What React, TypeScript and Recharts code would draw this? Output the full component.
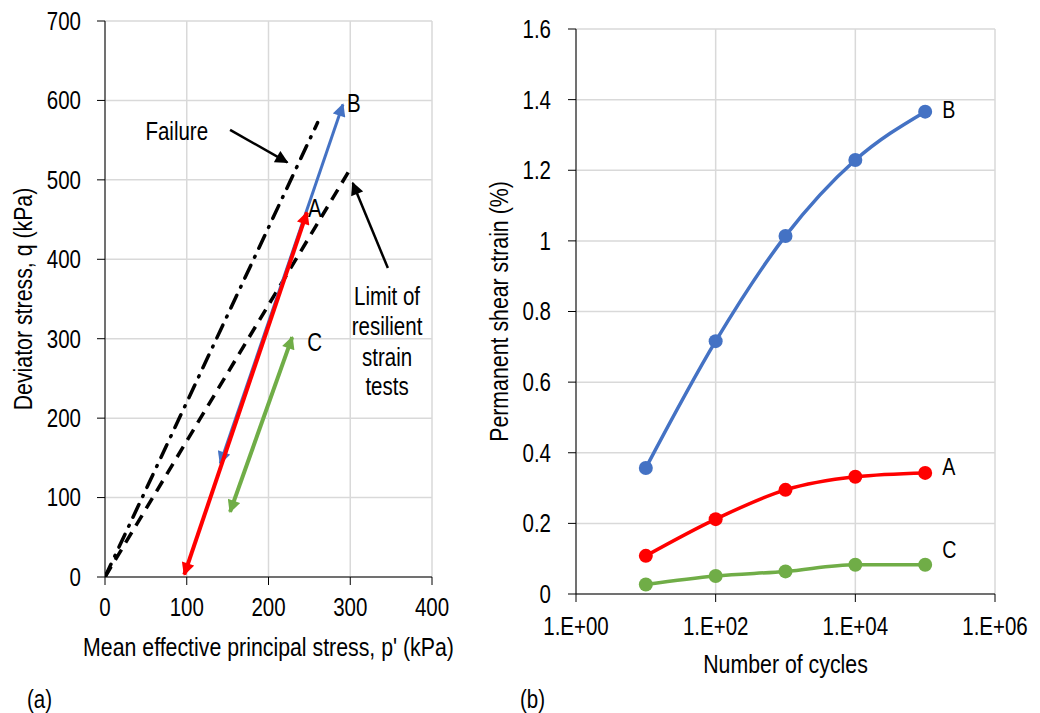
import React from "react";
import {
	LineChart,
	Line,
	XAxis,
	YAxis,
	CartesianGrid,
	ReferenceDot,
} from "recharts";

const FONT = "'Liberation Sans', Arial, sans-serif";
const SQUEEZE = 0.82; // the original uses a narrow face
const GRID = "#d9d9d9";
const RED = "#ff0000";
const BLUE = "#4472c4";
const GREEN = "#70ad47";

// (a) stress paths: p' and q in kPa
const failureLine = [{ p: 0, q: 0 }, { p: 260, q: 572 }];
const resilientLimit = [{ p: 0, q: 0 }, { p: 299, q: 512 }];
const pathA = [{ p: 97, q: 3 }, { p: 247, q: 459 }];
const pathB = [{ p: 141, q: 143 }, { p: 291, q: 595 }];
const pathC = [{ p: 153, q: 82 }, { p: 229, q: 302 }];
const failureArrow = [{ p: 153, q: 563 }, { p: 223, q: 522 }];
const limitArrow = [{ p: 346, q: 389 }, { p: 303, q: 496 }];
const pTicks = [0, 100, 200, 300, 400];
const qTicks = [0, 100, 200, 300, 400, 500, 600, 700];
const limitText = ["Limit of", "resilient", "strain", "tests"];
const limitTextQ = [354, 316, 277, 240];
const limitTextP = 345;

// (b) permanent shear strain vs number of cycles
const cycles = [10, 100, 1000, 10000, 100000];
const strainA = [0.108, 0.212, 0.295, 0.332, 0.343];
const strainB = [0.357, 0.716, 1.014, 1.229, 1.366];
const strainC = [0.027, 0.051, 0.064, 0.083, 0.083];
const cycleTicks = [1, 100, 10000, 1000000];
const strainTicks = [0, 0.2, 0.4, 0.6, 0.8, 1, 1.2, 1.4, 1.6];

const strainRows = cycles.map((n, i) => ({
	n,
	a: strainA[i],
	b: strainB[i],
	c: strainC[i],
}));

const fmtExp = (n: number) =>
	`1.E+${String(Math.round(Math.log10(n))).padStart(2, "0")}`;

const NarrowText = ({
	x,
	y,
	anchor = "middle",
	baseline = "middle",
	size = 25,
	angle = 0,
	children,
}: any) => (
	<text
		transform={`translate(${x},${y}) rotate(${angle}) scale(${SQUEEZE},1)`}
		textAnchor={anchor}
		dy={baseline === "top" ? "0.71em" : "0.355em"}
		fontSize={size}
		fontFamily={FONT}
		fill="#000"
	>
		{children}
	</text>
);

const bottomTick = (fmt: (v: number) => string) => (p: any) => (
	<NarrowText x={p.x} y={p.y} baseline="top">
		{fmt(p.payload.value)}
	</NarrowText>
);
const leftTick = (p: any) => (
	<NarrowText x={p.x} y={p.y} anchor="end">
		{String(p.payload.value)}
	</NarrowText>
);

const xTitle = (text: string, offset: number) => ({
	content: (p: any) => (
		<NarrowText
			x={p.viewBox.x + p.viewBox.width / 2}
			y={p.viewBox.y + offset}
			baseline="top"
			size={26}
		>
			{text}
		</NarrowText>
	),
});
const yTitle = (text: string, offset: number) => ({
	content: (p: any) => (
		<NarrowText
			x={p.viewBox.x + offset}
			y={p.viewBox.y + p.viewBox.height / 2}
			angle={-90}
			size={26}
		>
			{text}
		</NarrowText>
	),
});
const dotLabel = (
	text: string,
	dx: number,
	dy: number,
	anchor: string,
	size = 25
) => ({
	content: (p: any) => (
		<NarrowText
			x={p.viewBox.x + dx}
			y={p.viewBox.y + dy}
			anchor={anchor}
			size={size}
		>
			{text}
		</NarrowText>
	),
});

const Arrows = () => (
	<svg width={0} height={0} style={{ position: "absolute" }}>
		<defs>
			{[
				["arrRed", RED],
				["arrBlue", BLUE],
				["arrGreen", GREEN],
				["arrBlack", "#000"],
			].map(([id, c]) => (
				<marker
					key={id}
					id={id}
					viewBox="0 0 10 10"
					refX="9"
					refY="5"
					markerUnits="userSpaceOnUse"
					markerWidth="14"
					markerHeight="13"
					orient="auto-start-reverse"
				>
					<path d="M0,0 L10,5 L0,10 z" fill={c} />
				</marker>
			))}
		</defs>
	</svg>
);

const StressPaths = () => (
	<LineChart
		width={470}
		height={700}
		margin={{ top: 21, right: 38, bottom: 33, left: 0 }}
	>
		<CartesianGrid stroke={GRID} strokeWidth={1.5} />
		<XAxis
			type="number"
			dataKey="p"
			domain={[0, 400]}
			ticks={pTicks}
			interval={0}
			allowDataOverflow
			height={90}
			stroke="#000"
			tickSize={8}
			tickMargin={13}
			tick={bottomTick(String)}
			label={xTitle("Mean effective principal stress, p' (kPa)", 61)}
		/>
		<YAxis
			type="number"
			domain={[0, 700]}
			ticks={qTicks}
			interval={0}
			allowDataOverflow
			width={105}
			stroke="#000"
			tickSize={8}
			tickMargin={16}
			tick={leftTick}
			label={yTitle("Deviator stress, q (kPa)", 23)}
		/>
		<Line
			data={failureLine}
			dataKey="q"
			stroke="#000"
			strokeWidth={3.5}
			strokeDasharray="14 9 1 9"
			strokeLinecap="round"
			dot={false}
			isAnimationActive={false}
		/>
		<Line
			data={resilientLimit}
			dataKey="q"
			stroke="#000"
			strokeWidth={3.5}
			strokeDasharray="12 8"
			dot={false}
			isAnimationActive={false}
		/>
		<Line
			data={pathB}
			dataKey="q"
			stroke={BLUE}
			strokeWidth={3}
			markerStart="url(#arrBlue)"
			markerEnd="url(#arrBlue)"
			dot={false}
			isAnimationActive={false}
		/>
		<Line
			data={pathA}
			dataKey="q"
			stroke={RED}
			strokeWidth={4}
			markerStart="url(#arrRed)"
			markerEnd="url(#arrRed)"
			dot={false}
			isAnimationActive={false}
		/>
		<Line
			data={pathC}
			dataKey="q"
			stroke={GREEN}
			strokeWidth={4}
			markerStart="url(#arrGreen)"
			markerEnd="url(#arrGreen)"
			dot={false}
			isAnimationActive={false}
		/>
		<Line
			data={failureArrow}
			dataKey="q"
			stroke="#000"
			strokeWidth={2.5}
			markerEnd="url(#arrBlack)"
			dot={false}
			isAnimationActive={false}
		/>
		<Line
			data={limitArrow}
			dataKey="q"
			stroke="#000"
			strokeWidth={2.5}
			markerEnd="url(#arrBlack)"
			dot={false}
			isAnimationActive={false}
		/>
		<ReferenceDot
			x={pathB[1].p}
			y={pathB[1].q}
			r={0}
			label={dotLabel("B", 4, -1, "start")}
		/>
		<ReferenceDot
			x={pathA[1].p}
			y={pathA[1].q}
			r={0}
			label={dotLabel("A", 1, -4, "start")}
		/>
		<ReferenceDot
			x={pathC[1].p}
			y={pathC[1].q}
			r={0}
			label={dotLabel("C", 15, 5, "start")}
		/>
		<ReferenceDot
			x={failureArrow[0].p}
			y={failureArrow[0].q}
			r={0}
			label={dotLabel("Failure", -22, 1, "end")}
		/>
		{limitText.map((t, i) => (
			<ReferenceDot
				key={t}
				x={limitTextP}
				y={limitTextQ[i]}
				r={0}
				label={dotLabel(t, 0, 0, "middle")}
			/>
		))}
	</LineChart>
);

const ShearStrain = () => (
	<LineChart
		width={570}
		height={700}
		data={strainRows}
		margin={{ top: 29, right: 45, bottom: 16, left: 0 }}
	>
		<CartesianGrid stroke={GRID} strokeWidth={1.5} />
		<XAxis
			type="number"
			dataKey="n"
			scale="log"
			domain={[1, 1000000]}
			ticks={cycleTicks}
			interval={0}
			allowDataOverflow
			height={90}
			stroke="#000"
			tickSize={8}
			tickMargin={15}
			tick={bottomTick(fmtExp)}
			label={xTitle("Number of cycles", 61)}
		/>
		<YAxis
			type="number"
			domain={[0, 1.6]}
			ticks={strainTicks}
			interval={0}
			allowDataOverflow
			width={106}
			stroke="#000"
			tickSize={8}
			tickMargin={17}
			tick={leftTick}
			label={yTitle("Permanent shear strain (%)", 29)}
		/>
		<Line
			type="monotone"
			dataKey="b"
			stroke={BLUE}
			strokeWidth={3.5}
			dot={{ r: 7, fill: BLUE, stroke: "none" }}
			isAnimationActive={false}
		/>
		<Line
			type="monotone"
			dataKey="a"
			stroke={RED}
			strokeWidth={3.5}
			dot={{ r: 7, fill: RED, stroke: "none" }}
			isAnimationActive={false}
		/>
		<Line
			type="monotone"
			dataKey="c"
			stroke={GREEN}
			strokeWidth={3.5}
			dot={{ r: 7, fill: GREEN, stroke: "none" }}
			isAnimationActive={false}
		/>
		<ReferenceDot
			x={cycles[4]}
			y={strainB[4]}
			r={0}
			label={dotLabel("B", 17, -2, "start", 24)}
		/>
		<ReferenceDot
			x={cycles[4]}
			y={strainA[4]}
			r={0}
			label={dotLabel("A", 17, -6, "start", 24)}
		/>
		<ReferenceDot
			x={cycles[4]}
			y={strainC[4]}
			r={0}
			label={dotLabel("C", 17, -15, "start", 24)}
		/>
	</LineChart>
);

const panelTag = (left: number): React.CSSProperties => ({
	position: "absolute",
	left,
	top: 687,
	fontSize: 25,
	lineHeight: 1,
	transform: `scaleX(${SQUEEZE})`,
	transformOrigin: "left center",
});

export default function App() {
	return (
		<div
			style={{
				position: "absolute",
				left: 0,
				top: 0,
				width: 1040,
				height: 713,
				background: "#fff",
				fontFamily: FONT,
			}}
		>
			<Arrows />
			<div style={{ position: "absolute", left: 0, top: 0 }}>
				<StressPaths />
			</div>
			<div style={{ position: "absolute", left: 470, top: 0 }}>
				<ShearStrain />
			</div>
			<div style={panelTag(27)}>(a)</div>
			<div style={panelTag(520)}>(b)</div>
		</div>
	);
}
